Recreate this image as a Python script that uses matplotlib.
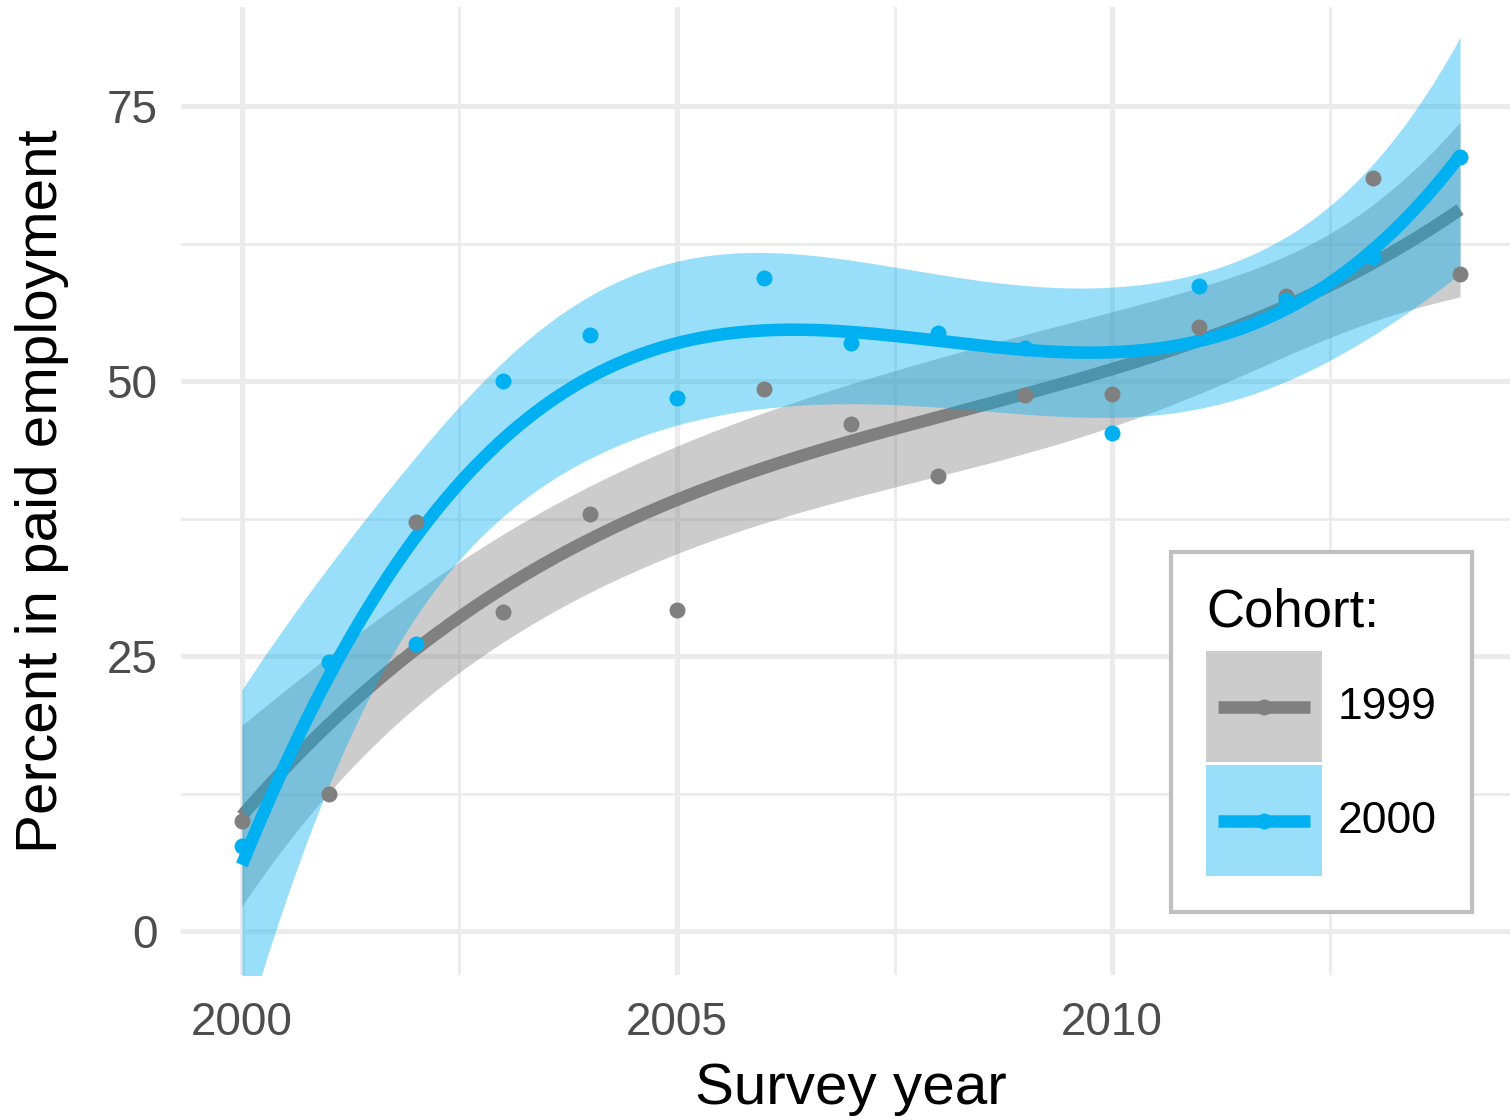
import matplotlib
matplotlib.use("Agg")
import matplotlib.pyplot as plt
import numpy as np
from matplotlib.patches import Rectangle
from matplotlib.lines import Line2D

plt.rcParams['font.family'] = ['Liberation Sans', 'DejaVu Sans']

years = np.arange(2000, 2015)
cohort_1999 = [10.0, 12.5, 37.2, 29.0, 37.9, 29.2, 49.3, 46.1, 41.4, 48.7, 48.8, 54.9, 57.7, 68.5, 59.7]
cohort_2000 = [7.7, 24.5, 26.1, 50.0, 54.2, 48.5, 59.4, 53.5, 54.4, 53.0, 45.3, 58.6, 57.4, 61.3, 70.4]
# half-width of the 95% band at each survey year
band_1999 = [8.2, 6.3, 5.1, 5.0, 4.8, 4.85, 5.1, 5.25, 5.3, 5.3, 5.3, 4.9, 4.5, 5.3, 7.95]
band_2000 = [15.9, 10.0, 7.3, 7.0, 7.2, 7.6, 7.3, 6.4, 5.8, 5.85, 6.15, 6.1, 6.5, 7.8, 10.75]
cohort_names = ['1999', '2000']
colors = ['#808080', '#00B0F0']


def smooth(x, y, band):
    # cubic lm fit; band width follows the read half-widths (variance is a
    # degree-6 polynomial in x for a cubic fit)
    x = np.asarray(x, float)
    u = (x - x.mean()) / 7
    xs = np.linspace(x.min(), x.max(), 300)
    us = (xs - x.mean()) / 7
    fit = np.polyval(np.polyfit(u, y, 3), us)
    var = np.polyval(np.polyfit(u, np.square(band), 6), us)
    hw = np.sqrt(np.clip(var, 0, None))
    return xs, fit, fit - hw, fit + hw


fig = plt.figure(figsize=(15.1, 11.2), dpi=100)
ax = fig.add_axes([181 / 1510, 145 / 1120, 1340 / 1510, 968 / 1120])

# smooths: ribbon + line per group, like ggplot
for vals, band, col in zip([cohort_1999, cohort_2000], [band_1999, band_2000], colors):
    xs, fit, lo, hi = smooth(years, vals, band)
    ax.fill_between(xs, lo, hi, color=col, alpha=0.4, lw=0, zorder=2)
    ax.plot(xs, fit, color=col, lw=9, solid_capstyle='butt', zorder=2)

# points on top
for vals, col in zip([cohort_1999, cohort_2000], colors):
    ax.plot(years, vals, 'o', color=col, ms=11.5, mew=0, zorder=3)

ax.set_xlim(1999.3, 2014.7)
ax.set_ylim(-4, 84)
ax.set_xticks([2000, 2005, 2010])
ax.set_xticks([2002.5, 2007.5, 2012.5], minor=True)
ax.set_yticks([0, 25, 50, 75])
ax.set_yticks([12.5, 37.5, 62.5], minor=True)
ax.grid(which='major', color='#EBEBEB', lw=3.6, zorder=0)
ax.grid(which='minor', color='#EBEBEB', lw=2, zorder=0)
ax.set_axisbelow(True)
for sp in ax.spines.values():
    sp.set_visible(False)
ax.tick_params(which='both', length=0, labelsize=33, labelcolor='#4D4D4D')
ax.tick_params(axis='x', pad=19)
ax.tick_params(axis='y', pad=17)
ax.set_xlabel('Survey year', fontsize=42, labelpad=12)
ax.set_ylabel('Percent in paid employment', fontsize=42, labelpad=27)


class KeyHandler:
    def __init__(self, col):
        self.col = col

    def legend_artist(self, legend, orig_handle, fontsize, handlebox):
        x0, y0 = handlebox.xdescent, handlebox.ydescent
        w, h = handlebox.width, handlebox.height
        tr = handlebox.get_transform()
        rect = Rectangle((-x0, -y0), w, h, facecolor=self.col, alpha=0.4,
                         lw=0, transform=tr)
        line = Line2D([-x0 + 0.1 * w, -x0 + 0.9 * w], [-y0 + h / 2] * 2, color=self.col,
                      lw=9, solid_capstyle='butt', transform=tr)
        dot = Line2D([-x0 + w / 2], [-y0 + h / 2], marker='o', ms=11.5, mew=0,
                     color=self.col, transform=tr)
        handlebox.add_artist(rect)
        handlebox.add_artist(line)
        handlebox.add_artist(dot)
        return rect


handles = [Rectangle((0, 0), 1, 1) for _ in cohort_names]
leg = ax.legend(handles, cohort_names, title='Cohort:',
                handler_map={h: KeyHandler(c) for h, c in zip(handles, colors)},
                loc='lower right', bbox_to_anchor=(0.9634, 0.0651), borderaxespad=0,
                fontsize=32, title_fontsize=38, alignment='left',
                handlelength=2.6, handleheight=3.47, labelspacing=0.07,
                handletextpad=0.35, borderpad=0.8, fancybox=False, framealpha=1)
leg.get_frame().set_edgecolor('#BFBFBF')
leg.get_frame().set_linewidth(3)
# a bit more room between the title and the keys
leg._legend_box.sep = 10

fig.savefig('out.png', dpi=100)
